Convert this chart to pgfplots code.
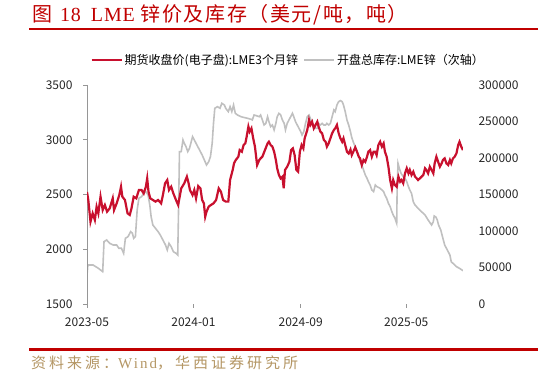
\documentclass[border=0pt]{standalone}
\usepackage{pgfplots}
\usepackage{pgfplotstable}
\pgfplotsset{compat=1.18}
\usepackage{fontspec}
\setmainfont{Noto Sans CJK SC}
\newfontfamily\cjk{Noto Sans CJK SC}
\newfontfamily\serif{Liberation Serif}
\newfontfamily\titlefont[LetterSpace=8]{Noto Sans CJK SC}
\newfontfamily\titleserif[LetterSpace=4]{Liberation Serif}
\newfontfamily\srcfont[LetterSpace=20]{Noto Sans CJK SC}
\newfontfamily\srcserif[LetterSpace=14]{Liberation Serif}
\definecolor{zred}{RGB}{200,16,46}
\definecolor{zgray}{RGB}{192,192,192}
\definecolor{tred}{RGB}{192,0,0}
\definecolor{tanc}{RGB}{180,150,100}
\definecolor{axgray}{RGB}{150,150,150}

% x = days since 2023-05-01
\pgfplotstableread{
d v
0 2523
3 2450
8 2251
13 2328
18 2267
22 2388
26 2328
31 2480
36 2358
41 2404
46 2343
52 2373
59 2465
62 2358
68 2419
74 2495
78 2571
81 2480
87 2450
93 2328
98 2313
102 2373
107 2480
113 2465
119 2541
125 2541
130 2510
135 2571
138 2647
141 2525
145 2465
151 2450
157 2435
163 2450
170 2419
174 2495
179 2602
184 2632
188 2541
193 2571
198 2510
204 2450
209 2404
216 2556
223 2602
229 2663
233 2602
236 2541
242 2495
246 2541
250 2465
255 2577
260 2556
264 2450
268 2419
271 2297
274 2343
279 2389
284 2404
290 2419
296 2450
302 2556
307 2526
312 2450
318 2435
324 2435
328 2632
334 2724
337 2784
341 2815
347 2845
350 2906
355 2891
359 2952
363 2967
366 3028
370 3120
373 3074
377 3104
381 3013
385 2937
390 2769
395 2815
398 2830
402 2845
408 2906
414 2967
417 2982
421 2952
425 2937
429 2891
433 2815
436 2739
440 2678
444 2647
448 2663
451 2556
454 2724
459 2754
464 2799
468 2906
472 2921
476 2860
480 2724
484 2708
488 2891
492 2952
496 2921
499 3013
505 3089
509 3180
512 3135
516 3165
520 3104
524 3135
528 3165
531 3120
535 3074
539 3059
543 2998
547 2982
550 2937
554 2967
558 3013
562 3059
566 3089
569 3104
573 3135
577 3059
581 3013
585 2982
588 3013
592 2952
596 2891
600 2875
604 2910
607 2860
611 2895
615 2930
619 2890
623 2845
626 2830
630 2769
634 2815
638 2799
642 2845
645 2891
649 2906
653 2845
657 2891
661 2891
664 2860
668 2952
672 2982
676 2937
680 2967
683 2891
687 2845
691 2754
695 2632
699 2556
702 2632
706 2586
710 2571
714 2663
718 2617
721 2632
725 2602
729 2693
733 2739
737 2693
740 2724
744 2678
748 2708
752 2663
756 2647
759 2632
763 2647
767 2663
771 2678
775 2739
778 2724
782 2693
786 2754
790 2724
794 2693
797 2784
801 2845
805 2799
809 2754
813 2784
816 2815
820 2830
824 2784
828 2769
832 2815
835 2784
839 2830
843 2845
847 2876
851 2952
854 2982
858 2937
862 2906
}\pricetable

\pgfplotstableread{
d v
0 40000
2 53400
14 53400
26 48900
36 44300
39 85400
45 87700
52 83100
60 80800
68 80800
73 76300
79 76300
84 69400
88 90000
94 92200
100 99100
104 97000
107 90000
111 92200
115 128800
119 144800
125 147000
130 151600
135 153900
140 149300
144 135600
147 119600
151 108200
157 103700
163 99100
168 94500
174 87700
180 80800
184 74000
188 83100
193 78500
198 71700
204 69400
208 67100
210 133300
212 208700
216 208700
220 224700
223 220100
227 215500
231 208700
235 213300
239 222400
242 229200
246 224700
252 217800
258 211000
264 204100
269 197300
274 190400
279 194900
283 201800
287 220100
290 247500
293 268100
299 270300
305 268100
309 275000
315 272600
318 268100
324 263500
328 270300
332 263500
336 272600
340 261200
345 258900
353 256600
360 255500
368 254400
376 253000
379 252100
383 258900
388 258000
395 256600
398 258900
402 252100
406 245200
410 247500
414 256600
417 249800
421 242900
425 245200
429 238400
433 247500
436 256600
440 261200
444 258900
448 252100
452 247500
455 238400
459 247500
463 252100
467 256600
471 261200
474 256600
478 249800
482 245200
486 240600
490 236100
493 231500
497 236100
501 247500
505 256600
509 258900
512 254400
516 247500
520 242900
524 240600
528 240600
531 247500
535 245200
539 247500
543 245200
547 245200
550 247500
554 245200
558 247500
562 256600
566 265800
569 263500
573 272600
577 277200
581 278600
585 277200
588 272600
592 263500
596 252100
600 245000
604 236000
607 228000
611 221000
615 215500
619 208700
623 203000
626 194900
630 190400
634 183600
638 176700
642 172200
645 167600
649 163000
653 156200
657 153900
661 163000
664 161000
672 158500
680 153900
683 149300
687 144800
691 137900
695 133300
699 126400
702 121900
706 117400
710 110500
711 156200
713 192700
716 185900
720 179000
725 174400
729 172200
733 167600
737 160700
740 156200
744 151600
748 140100
752 135600
759 131100
767 126400
775 121900
782 115100
790 108200
794 112800
796 120600
800 119000
803 115100
806 108200
811 101400
815 92200
820 80800
824 76300
828 71700
832 67100
835 58000
839 55700
847 51100
854 48900
862 45700
}\stocktable

\begin{document}
\begin{tikzpicture}[x=1pt,y=1pt]
\path[use as bounding box] (0,0) rectangle (538,377);
\node[anchor=west, text=tred, inner sep=0, font=\fontsize{20}{22}\selectfont] at (32,362)
  {\titlefont 图\hspace{8pt}{\titleserif 18}\hspace{10pt}{\titleserif LME}\hspace{6pt}锌价及库存（美元/吨，吨）};
\draw[tred, line width=2.2pt] (29,348) -- (538,348);
\draw[tred, line width=2.2pt] (29,27.5) -- (538,27.5);
\node[anchor=west, text=tanc, inner sep=0, font=\fontsize{15}{18}\selectfont] at (31,14.5)
  {\srcfont 资料来源：{\srcserif Wind}，华西证券研究所};

% secondary axis (inventory)
\begin{axis}[
  at={(87pt,73pt)}, anchor=south west, scale only axis,
  width=376pt, height=219pt,
  xmin=0, xmax=862, ymin=0, ymax=300000,
  axis line style={draw=none},
  xtick=\empty,
  ytick pos=right,
  major tick length=0pt,
  ytick={0,50000,100000,150000,200000,250000,300000},
  yticklabels={0,50000,100000,150000,200000,250000,300000},
  scaled y ticks=false,
  yticklabel style={font=\fontsize{12}{14}\selectfont, text=black!85, xshift=12pt},
]
\addplot[zgray, line width=1.6pt] table[x=d, y=v] {\stocktable};
\end{axis}

% primary axis (price)
\begin{axis}[
  at={(87pt,73pt)}, anchor=south west, scale only axis,
  width=376pt, height=219pt,
  xmin=0, xmax=862, ymin=1500, ymax=3500,
  axis line style={draw=none},
  xtick pos=bottom, ytick pos=left,
  tick style={axgray, line width=0.8pt},
  tick align=outside, major tick length=4pt,
  xtick={0,244,490,732},
  xticklabels={2023-05,2024-01,2024-09,2025-05},
  ytick={1500,2000,2500,3000,3500},
  yticklabels={1500,2000,2500,3000,3500},
  scaled y ticks=false,
  tick label style={font=\fontsize{12}{14}\selectfont, text=black!85},
  yticklabel style={xshift=-7pt},
  xticklabel style={yshift=-6pt},
  legend style={at={(0.535,1.114)}, anchor=center, draw=none, fill=none,
    legend columns=2, font=\fontsize{12}{13}\selectfont,
    /tikz/every even column/.append style={column sep=3pt},
    inner sep=0pt},
  legend image code/.code={\draw[#1] (0pt,0pt) -- (30pt,0pt);},
]
\draw[axgray, line width=0.9pt] (rel axis cs:0,1) -- (rel axis cs:0,0) -- (rel axis cs:1,0);
\addplot[zred, line width=2.2pt] table[x=d, y=v] {\pricetable};
\addlegendentry{期货收盘价(电子盘):LME3个月锌}
\addlegendimage{zgray, line width=2pt}
\addlegendentry{开盘总库存:LME锌（次轴）}
\end{axis}
\end{tikzpicture}
\end{document}
